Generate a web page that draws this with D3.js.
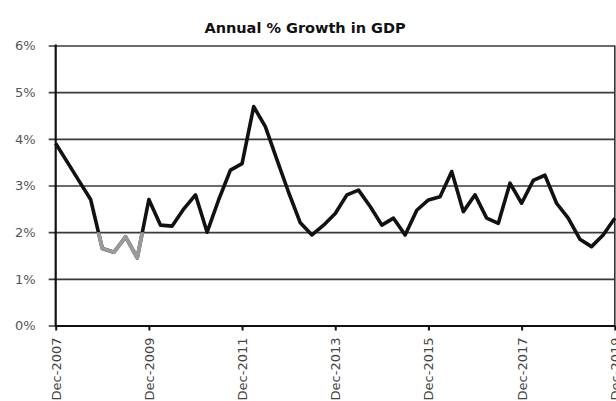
<!DOCTYPE html>
<html>
<head>
<meta charset="utf-8">
<script src="https://cdn.jsdelivr.net/npm/d3@7/dist/d3.min.js"></script>
<style>
  html, body { margin: 0; padding: 0; background: #fff; }
  svg { display: block; }
</style>
</head>
<body>
<svg id="chart" width="616" height="401"></svg>
<script>
// Quarter-end labels, Dec-2007 through Dec-2019
const years = [2008, 2009, 2010, 2011, 2012, 2013, 2014, 2015, 2016, 2017, 2018, 2019];
const quarters = ["Dec-2007"];
years.forEach(yr => ["Mar", "Jun", "Sep", "Dec"].forEach(m => quarters.push(m + "-" + yr)));

// Annual % growth in GDP, one value per quarter
const growth = [
  3.9, 3.5, 3.1, 2.7, 1.65, 1.57, 1.9, 1.45, 2.7,
  2.15, 2.13, 2.5, 2.8, 2.0, 2.7, 3.33, 3.47,
  4.69, 4.26, 3.55, 2.85, 2.2, 1.94, 2.15, 2.4,
  2.8, 2.9, 2.55, 2.15, 2.3, 1.94, 2.47, 2.69,
  2.76, 3.3, 2.44, 2.8, 2.3, 2.19, 3.05, 2.62,
  3.11, 3.22, 2.62, 2.3, 1.85, 1.69, 1.94, 2.3
];

// Downturn quarters, where growth slipped under the 2% line (shown in grey)
const downturn = ["Sep-2008", "Dec-2008", "Mar-2009", "Jun-2009", "Sep-2009", "Dec-2009"];
const downturnFloor = 2;

const yTicks = [0, 1, 2, 3, 4, 5, 6];
const xTickLabels = ["Dec-2007", "Dec-2009", "Dec-2011", "Dec-2013", "Dec-2015", "Dec-2017", "Dec-2019"];

const data = quarters.map((q, i) => ({ q, v: growth[i] }));

const svg = d3.select("#chart");
const plotLeft = 55.7, plotRight = 614.8, plotTop = 45.5, plotBottom = 325.5;

const x = d3.scalePoint().domain(quarters).range([plotLeft, plotRight]);
const y = d3.scaleLinear().domain([0, 6]).range([plotBottom, plotTop]);

// Title
svg.append("text")
  .attr("x", 305).attr("y", 33)
  .attr("text-anchor", "middle")
  .attr("font-family", "DejaVu Sans, sans-serif")
  .attr("font-weight", "bold")
  .attr("font-size", 14.5)
  .attr("fill", "#111")
  .text("Annual % Growth in GDP");

// Horizontal gridlines + y labels via the axis
const yAxis = svg.append("g")
  .attr("transform", `translate(${plotLeft},0)`)
  .call(d3.axisLeft(y).tickValues(yTicks).tickFormat(d => d + "%")
    .tickSize(-(plotRight - plotLeft)).tickSizeOuter(0).tickPadding(20));
yAxis.select(".domain").remove();
yAxis.selectAll(".tick line")
  .attr("x1", -7)
  .attr("stroke", "#3a3a3a")
  .attr("stroke-width", 1.6);
yAxis.selectAll(".tick text")
  .attr("font-family", "DejaVu Sans, sans-serif")
  .attr("font-size", 13)
  .attr("fill", "#555");

// Vertical axis and right frame
svg.append("line")
  .attr("x1", plotLeft).attr("x2", plotLeft).attr("y1", plotTop - 1).attr("y2", plotBottom + 1)
  .attr("stroke", "#111").attr("stroke-width", 2.2);
svg.append("line")
  .attr("x1", plotRight).attr("x2", plotRight).attr("y1", plotTop).attr("y2", plotBottom)
  .attr("stroke", "#333").attr("stroke-width", 1.6);

// Bottom axis with rotated date labels
const xAxis = svg.append("g")
  .attr("transform", `translate(0,${plotBottom})`)
  .call(d3.axisBottom(x).tickValues(xTickLabels).tickSize(5).tickSizeOuter(0).tickPadding(6));
xAxis.select(".domain").attr("stroke", "#111").attr("stroke-width", 2.2);
xAxis.selectAll(".tick line").attr("stroke", "#111").attr("stroke-width", 2);
xAxis.selectAll(".tick text")
  .attr("font-family", "DejaVu Sans, sans-serif")
  .attr("font-size", 13)
  .attr("fill", "#444")
  .attr("text-anchor", "end")
  .attr("transform", "rotate(-90)")
  .attr("x", -12)
  .attr("y", 0)
  .attr("dy", "0.35em");

// Growth line
const line = d3.line().x(d => x(d.q)).y(d => y(d.v));
svg.append("path")
  .datum(data)
  .attr("fill", "none")
  .attr("stroke", "#111")
  .attr("stroke-width", 3.6)
  .attr("stroke-linejoin", "round")
  .attr("d", line);

// Grey overlay for the downturn stretch below the 2% line
svg.append("clipPath").attr("id", "below-floor")
  .append("rect")
  .attr("x", plotLeft).attr("width", plotRight - plotLeft)
  .attr("y", y(downturnFloor)).attr("height", plotBottom - y(downturnFloor));
svg.append("path")
  .datum(data.filter(d => downturn.includes(d.q)))
  .attr("clip-path", "url(#below-floor)")
  .attr("fill", "none")
  .attr("stroke", "#9a9a9a")
  .attr("stroke-width", 3.8)
  .attr("stroke-linejoin", "round")
  .attr("d", line);
</script>
</body>
</html>
